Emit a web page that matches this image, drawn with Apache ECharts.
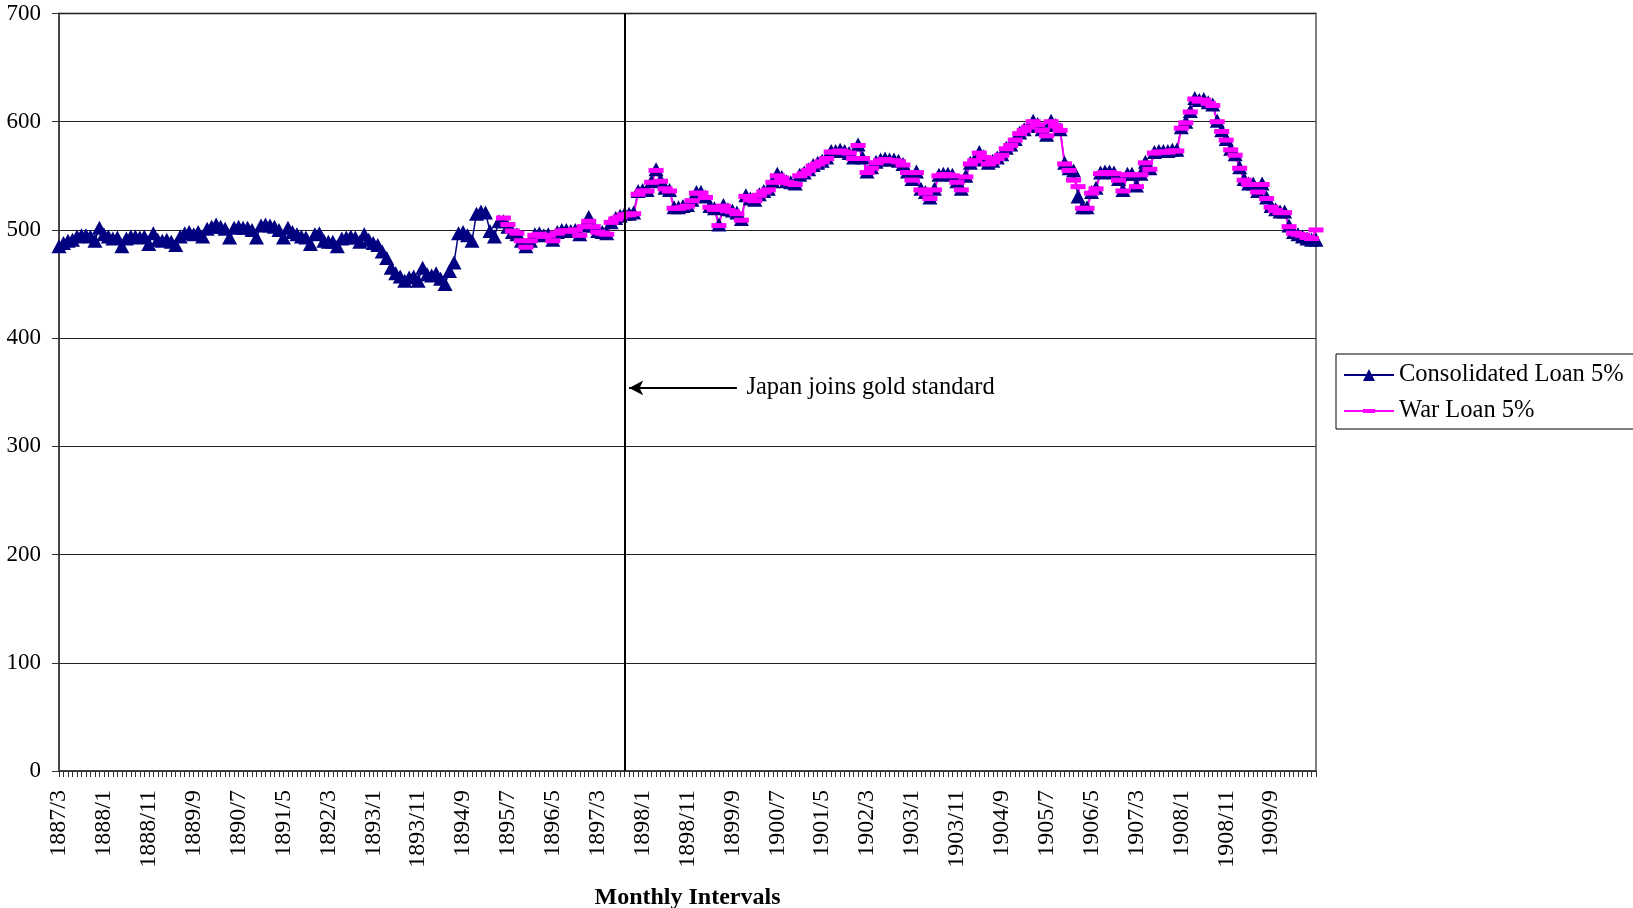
<!DOCTYPE html>
<html>
<head>
<meta charset="utf-8">
<script src="https://cdn.jsdelivr.net/npm/echarts@6/dist/echarts.min.js"></script>
<style>
html,body{margin:0;padding:0;background:#fff;}
#chart{width:1633px;height:908px;}
</style>
</head>
<body>
<div id="chart"></div>
<script>
// Monthly categories 1887/3 .. 1910/7 (281 months)
const startYear = 1887, startMonth = 3, monthCount = 281;
const categories = [];
for (let k = 0; k < monthCount; k++) {
  const m = startMonth - 1 + k;
  categories.push((startYear + Math.floor(m / 12)) + '/' + (m % 12 + 1));
}

const yTicks = [0, 100, 200, 300, 400, 500, 600, 700];

const consolidatedLoan = [
  485,488,490,491,494,495,495,494,490,502,
  496,494,492,493,485,492,494,494,493,494,
  487,497,491,490,491,489,486,494,497,498,
  496,498,494,501,503,505,503,501,493,502,
  503,502,502,500,493,504,505,504,503,500,
  493,502,498,496,494,493,487,496,497,490,
  489,489,485,492,493,494,493,489,496,491,
  488,486,480,474,465,460,457,453,456,457,
  453,465,459,458,460,455,450,462,470,497,
  498,495,490,515,517,516,499,494,508,508,
  503,498,496,490,485,490,496,497,495,496,
  491,498,500,500,499,500,496,504,512,504,
  499,498,497,507,511,513,515,515,516,536,
  537,537,545,556,546,539,537,521,521,522,
  523,528,535,535,531,522,520,505,523,519,
  518,516,510,532,529,528,533,536,538,545,
  552,549,545,544,543,551,553,556,560,562,
  564,567,573,573,574,573,571,567,579,567,
  554,558,563,565,566,565,565,564,561,554,
  547,554,538,535,530,538,551,552,552,551,
  545,538,550,562,565,572,568,562,564,567,
  570,576,579,584,590,593,596,601,598,593,
  588,601,597,593,562,557,555,531,521,521,
  535,539,553,554,554,553,547,537,552,552,
  541,552,563,557,572,573,573,573,574,574,
  595,600,610,622,620,621,618,616,601,592,
  584,575,570,558,547,543,543,536,543,530,
  522,519,517,517,504,498,496,494,492,491,
  491
];

const warLoan = [
  null,null,null,null,null,null,null,null,null,null,
  null,null,null,null,null,null,null,null,null,null,
  null,null,null,null,null,null,null,null,null,null,
  null,null,null,null,null,null,null,null,null,null,
  null,null,null,null,null,null,null,null,null,null,
  null,null,null,null,null,null,null,null,null,null,
  null,null,null,null,null,null,null,null,null,null,
  null,null,null,null,null,null,null,null,null,null,
  null,null,null,null,null,null,null,null,null,null,
  null,null,null,null,null,null,null,null,null,511,
  505,499,497,490,484,490,495,496,494,495,
  490,497,499,499,499,500,495,503,508,503,
  498,497,496,507,510,512,514,514,515,533,
  536,536,544,555,545,538,536,520,520,521,
  522,527,534,534,530,521,519,504,522,518,
  517,515,509,531,528,527,532,535,537,544,
  550,548,544,543,542,550,552,555,559,561,
  563,566,572,572,573,572,571,566,578,566,
  553,557,562,564,565,564,564,563,560,553,
  546,553,537,534,529,537,550,551,551,550,
  544,537,549,561,564,571,567,561,563,566,
  569,575,578,583,589,592,595,600,597,592,
  587,600,596,592,561,555,546,540,520,520,
  534,538,552,553,553,552,546,536,551,551,
  540,551,562,556,571,572,572,572,573,573,
  594,599,609,621,619,620,617,615,600,591,
  583,574,569,557,546,542,542,535,542,529,
  521,518,516,516,503,497,496,495,493,492,
  500
];

const labelEvery = 10, lastLabelIndex = 270;
const goldStandardIndex = 126;   // vertical line category
const arrowFromIndex = 151, arrowToIndex = 127, arrowValue = 354;
const annotationText = 'Japan joins gold standard';

const FONT = '"Liberation Serif", "Times New Roman", serif';
const dashSymbol = 'path://M0,0L0,0M0,4H12V8H0ZM12,12L12,12';

const chart = echarts.init(document.getElementById('chart'), null, {renderer: 'canvas'});
chart.setOption({
  animation: false,
  backgroundColor: '#ffffff',
  textStyle: {fontFamily: FONT, color: '#000'},
  grid: {
    left: 59, right: 317, top: 13.5, bottom: 137,
    outerBoundsMode: 'none',
    containLabel: false,
    show: true, borderColor: '#808080', borderWidth: 2, backgroundColor: '#fff'
  },
  legend: {
    orient: 'vertical',
    left: 1336, top: 354,
    padding: [8, 40, 5, 7],
    itemGap: 10,
    itemWidth: 50, itemHeight: 15,
    borderColor: '#000', borderWidth: 1,
    backgroundColor: '#fff',
    textStyle: {fontFamily: FONT, fontSize: 24.5, color: '#000', lineHeight: 26},
    data: ['Consolidated Loan 5%', 'War Loan 5%']
  },
  xAxis: {
    type: 'category',
    data: categories,
    boundaryGap: false,
    name: 'Monthly Intervals',
    nameLocation: 'middle',
    nameGap: 115,
    nameTextStyle: {fontFamily: FONT, fontSize: 24, fontWeight: 'bold', color: '#000'},
    axisLine: {show: true, lineStyle: {color: '#333', width: 1.5}},
    axisTick: {show: true, interval: 0, length: 6, lineStyle: {color: '#333', width: 1}},
    axisLabel: {
      interval: function (idx) { return idx % labelEvery === 0 && idx <= lastLabelIndex; },
      rotate: 90, margin: 19,
      fontFamily: FONT, fontSize: 24, color: '#000'
    },
    splitLine: {show: false}
  },
  yAxis: {
    type: 'value',
    min: yTicks[0], max: yTicks[yTicks.length - 1], interval: 100,
    axisLine: {show: true, lineStyle: {color: '#333', width: 1.5}},
    axisTick: {show: true, length: 7, lineStyle: {color: '#333'}},
    axisLabel: {margin: 18, fontFamily: FONT, fontSize: 23, color: '#000'},
    splitLine: {show: true, lineStyle: {color: '#222', width: 1.2}}
  },
  series: [
    {
      name: 'Consolidated Loan 5%',
      type: 'line',
      data: consolidatedLoan,
      symbol: 'triangle',
      symbolSize: [15, 14],
      showSymbol: true,
      showAllSymbol: true,
      lineStyle: {color: '#000080', width: 1.5},
      itemStyle: {color: '#000080'},
      markLine: {
        silent: true,
        animation: false,
        symbol: 'none',
        label: {show: false},
        lineStyle: {color: '#000', width: 2, type: 'solid'},
        data: [
          {xAxis: categories[goldStandardIndex]},
          [
            {coord: [categories[arrowFromIndex], arrowValue], symbol: 'none'},
            {coord: [categories[arrowToIndex], arrowValue], symbol: 'arrow', symbolSize: [11, 14]}
          ]
        ]
      },
      markPoint: {
        silent: true,
        animation: false,
        data: [{
          coord: [categories[arrowFromIndex], arrowValue],
          symbol: 'circle', symbolSize: 1,
          itemStyle: {color: 'rgba(0,0,0,0)'},
          label: {
            show: true, position: 'right', distance: 9,
            formatter: annotationText,
            fontFamily: FONT, fontSize: 24.5, color: '#000'
          }
        }]
      }
    },
    {
      name: 'War Loan 5%',
      type: 'line',
      data: warLoan,
      symbol: dashSymbol,
      symbolSize: 15,
      showSymbol: true,
      showAllSymbol: true,
      connectNulls: false,
      lineStyle: {color: '#ff00ff', width: 2},
      itemStyle: {color: '#ff00ff'}
    }
  ]
});
</script>
</body>
</html>
